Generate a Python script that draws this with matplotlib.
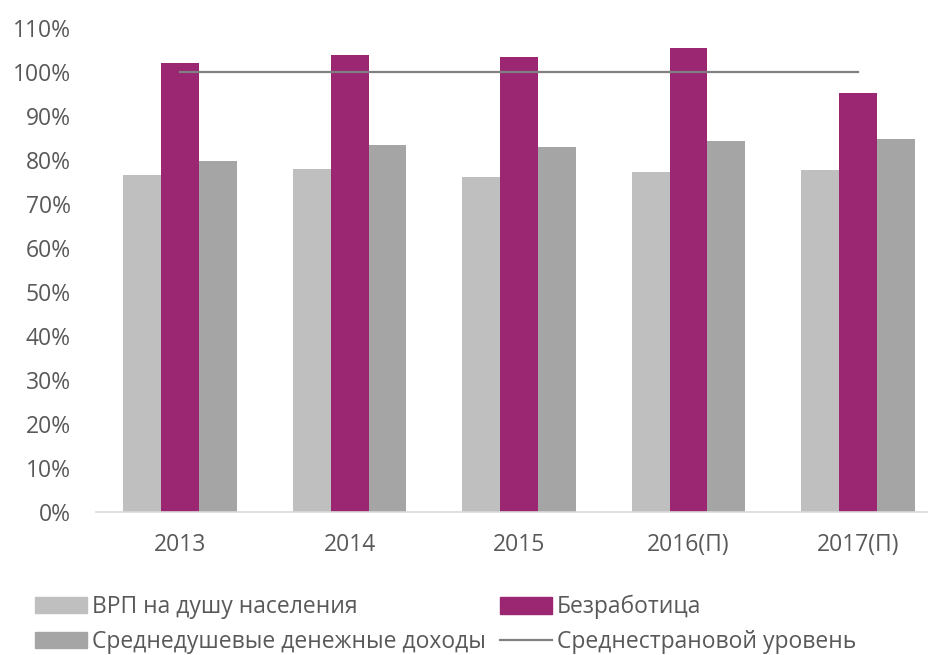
import numpy as np
import matplotlib
matplotlib.use("Agg")
import matplotlib.pyplot as plt
from matplotlib.patches import Patch
from matplotlib.lines import Line2D
from matplotlib.ticker import PercentFormatter

plt.rcParams['font.family'] = ['Open Sans', 'DejaVu Sans']

# DATA
years = ['2013', '2014', '2015', '2016(П)', '2017(П)']
grp = [76.6, 78.0, 76.2, 77.3, 77.8]          # ВРП на душу населения
unemp = [102.0, 103.9, 103.4, 105.4, 95.2]     # Безработица
income = [79.8, 83.4, 83.0, 84.4, 84.8]        # Среднедушевые денежные доходы
country = [100, 100, 100, 100, 100]            # Среднестрановой уровень

labels = ['ВРП на душу населения', 'Безработица',
          'Среднедушевые денежные доходы', 'Среднестрановой уровень']

c_light = '#BFBFBF'
c_mag = '#9B2671'
c_dark = '#A5A5A5'
c_line = '#808080'
txt = '#595959'

fig = plt.figure(figsize=(9.32, 6.55), dpi=100)
ax = fig.add_axes([0.103, 0.2183, 0.8916, 0.739])

x = np.arange(len(years))
w = 0.224
ax.bar(x - w, np.array(grp) / 100, width=w, color=c_light)
ax.bar(x, np.array(unemp) / 100, width=w, color=c_mag)
ax.bar(x + w, np.array(income) / 100, width=w, color=c_dark)
ax.plot(x, np.array(country) / 100, color=c_line, linewidth=1.6)

ax.set_xlim(-0.496, 4.407)
ax.set_ylim(0, 1.1)
ax.set_yticks(np.arange(0, 1.11, 0.1))
ax.yaxis.set_major_formatter(PercentFormatter(1.0, decimals=0))
ax.set_xticks(x)
ax.set_xticklabels(years)

for s in ['top', 'right', 'left']:
    ax.spines[s].set_visible(False)
ax.spines['bottom'].set_color('#D9D9D9')
ax.spines['bottom'].set_linewidth(1.2)
ax.tick_params(axis='both', length=0, labelsize=16.5, colors=txt)
ax.tick_params(axis='y', pad=18)
ax.tick_params(axis='x', pad=15)

# LEGEND (two columns placed separately)
leg_kw = dict(loc='upper left', frameon=False, fontsize=16.5, labelcolor=txt,
              handlelength=2.27, handleheight=0.75, handletextpad=0.22,
              labelspacing=0.48, borderaxespad=0, borderpad=0)
leg1 = fig.legend([Patch(color=c_light), Patch(color=c_dark)],
                  [labels[0], labels[2]], bbox_to_anchor=(35 / 932, 0.0916), **leg_kw)
fig.legend([Patch(color=c_mag), Line2D([0], [0], color=c_line, linewidth=1.6)],
           [labels[1], labels[3]], bbox_to_anchor=(500 / 932, 0.0916), **leg_kw)

fig.savefig('out.png', dpi=100)
